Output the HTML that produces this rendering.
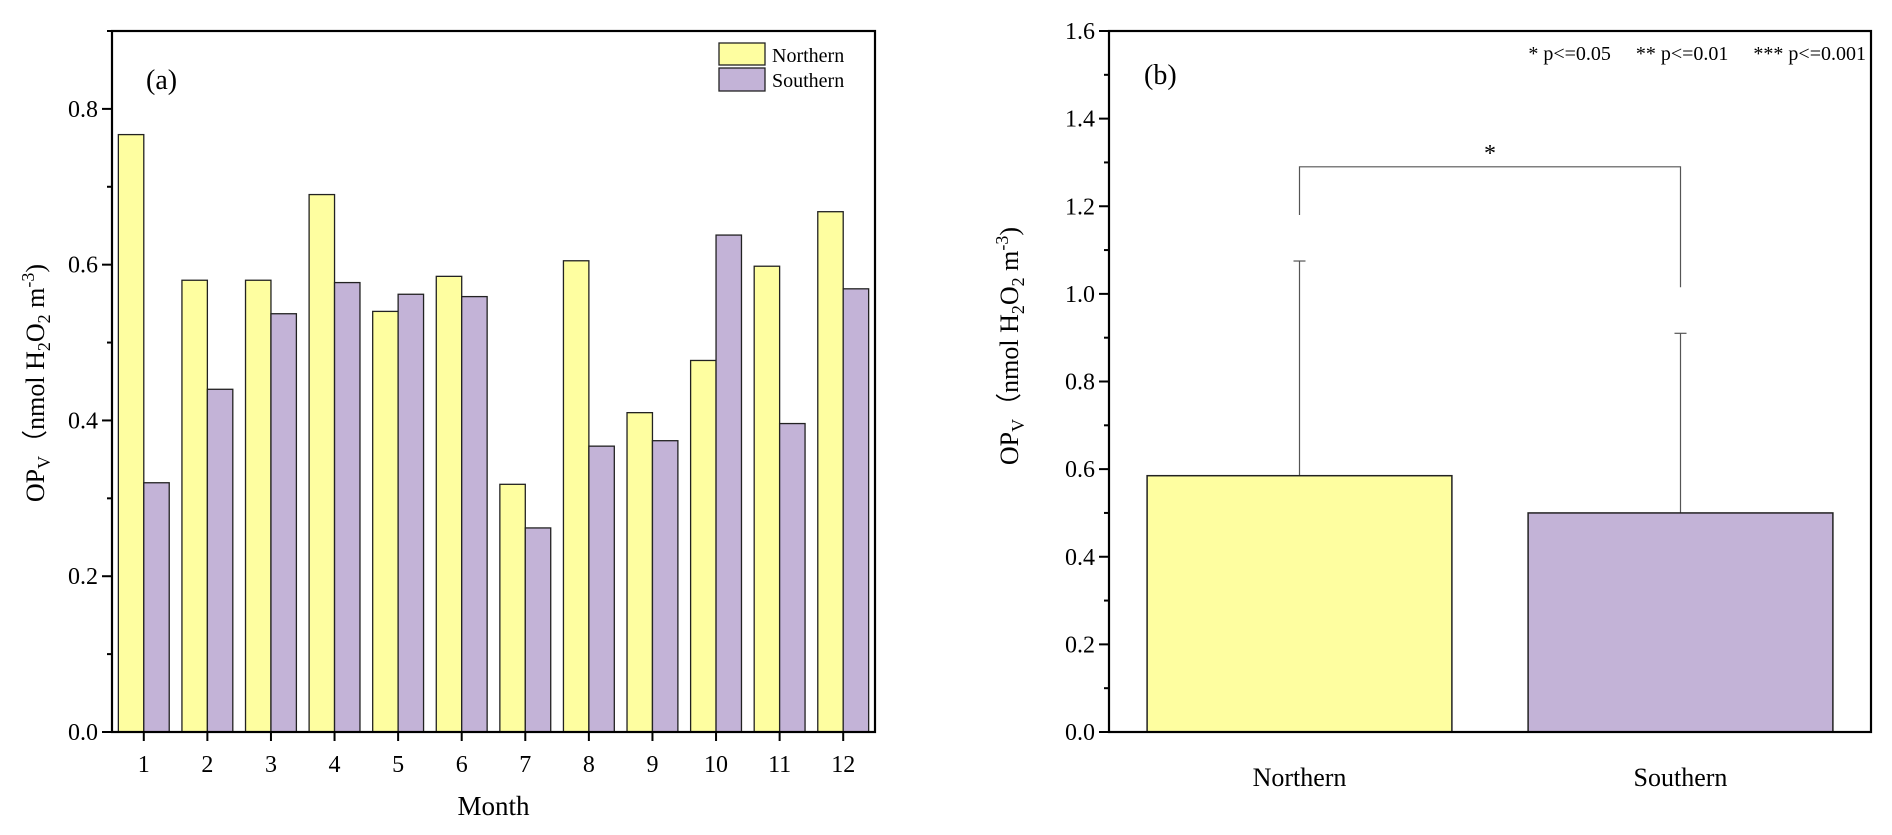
<!DOCTYPE html>
<html><head><meta charset="utf-8"><style>
body{margin:0;background:#fff;}
svg{display:block;}
svg text{font-family:"Liberation Serif","Times New Roman",serif;}
</style></head><body>
<svg width="1892" height="835" viewBox="0 0 1892 835" xmlns="http://www.w3.org/2000/svg" font-family="Liberation Serif, serif">
<g id="a"></g>
<g id="b"></g>
</svg>
<script>
const months=["1","2","3","4","5","6","7","8","9","10","11","12"];
const northern=[0.767,0.58,0.58,0.69,0.54,0.585,0.318,0.605,0.41,0.477,0.598,0.668];
const southern=[0.32,0.44,0.537,0.577,0.562,0.559,0.262,0.367,0.374,0.638,0.396,0.569];
const yTicksA=[0,0.2,0.4,0.6,0.8];
const groupsB=["Northern","Southern"];
const meansB=[0.585,0.5];
const errTopB=[1.075,0.91];
const yTicksB=[0,0.2,0.4,0.6,0.8,1.0,1.2,1.4,1.6];
const NS="http://www.w3.org/2000/svg";
const YEL="#fefea0",PUR="#c3b3d7";
function mk(p,t,a,txt){const e=document.createElementNS(NS,t);for(const k in a)e.setAttribute(k,a[k]);if(txt!==undefined)e.textContent=txt;p.appendChild(e);return e;}
// Panel A
const A=document.getElementById('a');
const aL=112,aR=875,aT=31,aB=732,aMax=0.9;
const ya=v=>aB-v/aMax*(aB-aT);
const xa=i=>aL+(i+0.5)*(aR-aL)/12;
const bw=(aR-aL)/12*0.4;
months.forEach((m,i)=>{
 let r=mk(A,'rect',{x:xa(i)-bw,y:ya(northern[i]),width:bw,height:aB-ya(northern[i]),fill:YEL,stroke:'#222','stroke-width':1.3});
 
 
 let s=mk(A,'rect',{x:xa(i),y:ya(southern[i]),width:bw,height:aB-ya(southern[i]),fill:PUR,stroke:'#222','stroke-width':1.3});
 
 
 mk(A,'line',{x1:xa(i),x2:xa(i),y1:aB,y2:aB+9,stroke:'#000','stroke-width':2});
 let t=mk(A,'text',{x:xa(i),y:aB+40,'text-anchor':'middle','font-size':24},m);
 
 
});
yTicksA.forEach(v=>{
 mk(A,'line',{x1:aL-10,x2:aL,y1:ya(v),y2:ya(v),stroke:'#000','stroke-width':2});
 let t=mk(A,'text',{x:aL-14,y:ya(v)+8,'text-anchor':'end','font-size':24},v.toFixed(1));
 
 
});
for(let v=0.1;v<aMax;v+=0.2){mk(A,'line',{x1:aL-5,x2:aL,y1:ya(v),y2:ya(v),stroke:'#000','stroke-width':2});}
mk(A,'rect',{x:aL,y:aT,width:aR-aL,height:aB-aT,fill:'none',stroke:'#000','stroke-width':2.2});
let la=mk(A,'text',{x:146,y:89,'font-size':28},'(a)');
let lg=mk(A,'g',{});
mk(lg,'rect',{x:719,y:43,width:46,height:22,fill:YEL,stroke:'#222','stroke-width':1.3});
mk(lg,'text',{x:772,y:62,'font-size':20},'Northern');
mk(lg,'rect',{x:719,y:68,width:46,height:23,fill:PUR,stroke:'#222','stroke-width':1.3});
mk(lg,'text',{x:772,y:87,'font-size':20},'Southern');
let xt=mk(A,'text',{x:(aL+aR)/2,y:815,'text-anchor':'middle','font-size':27},'Month');
function ytitle(p,x,y){const t=mk(p,'text',{transform:`translate(${x},${y}) rotate(-90)`,'text-anchor':'middle','font-size':26});
 t.innerHTML='OP<tspan font-size="18" dy="6">V</tspan><tspan dy="-6" font-family="Noto Sans CJK SC,sans-serif">（</tspan>nmol H<tspan font-size="18" dy="6">2</tspan><tspan dy="-6">O</tspan><tspan font-size="18" dy="6">2</tspan><tspan dy="-6"> m</tspan><tspan font-size="18" dy="-10">-3</tspan><tspan dy="10">)</tspan>';
 }
ytitle(A,44,383);
// Panel B
const B=document.getElementById('b');
const bL=1109,bR=1871,bT=31,bB=732,bMax=1.6;
const yb=v=>bB-v/bMax*(bB-bT);
const xb=i=>bL+(i+0.5)*(bR-bL)/2;
const bbw=(bR-bL)/2*0.8;
groupsB.forEach((g,i)=>{
 mk(B,'line',{x1:xb(i),x2:xb(i),y1:yb(meansB[i]),y2:yb(errTopB[i]),stroke:'#555','stroke-width':1.2});
 mk(B,'line',{x1:xb(i)-6,x2:xb(i)+6,y1:yb(errTopB[i]),y2:yb(errTopB[i]),stroke:'#555','stroke-width':1.2});
 let r=mk(B,'rect',{x:xb(i)-bbw/2,y:yb(meansB[i]),width:bbw,height:bB-yb(meansB[i]),fill:i?PUR:YEL,stroke:'#222','stroke-width':1.5});
 
 
 let t=mk(B,'text',{x:xb(i),y:786,'text-anchor':'middle','font-size':26},g);
 
 
});
yTicksB.forEach(v=>{
 mk(B,'line',{x1:bL-10,x2:bL,y1:yb(v),y2:yb(v),stroke:'#000','stroke-width':2});
 let t=mk(B,'text',{x:bL-14,y:yb(v)+8,'text-anchor':'end','font-size':24},v.toFixed(1));
 
 
});
for(let v=0.1;v<bMax;v+=0.2){mk(B,'line',{x1:bL-5,x2:bL,y1:yb(v),y2:yb(v),stroke:'#000','stroke-width':2});}
mk(B,'rect',{x:bL,y:bT,width:bR-bL,height:bB-bT,fill:'none',stroke:'#000','stroke-width':2.2});
let br=mk(B,'path',{d:`M${xb(0)} ${yb(1.18)} V${yb(1.29)} H${xb(1)} V${yb(1.015)}`,fill:'none',stroke:'#555','stroke-width':1.2});

mk(B,'text',{x:(xb(0)+xb(1))/2,y:yb(1.29)-6,'text-anchor':'middle','font-size':24},'*');
let lb=mk(B,'text',{x:1144,y:84,'font-size':28},'(b)');
let pl=mk(B,'text',{x:1866,y:60,'text-anchor':'end','font-size':20,style:'white-space:pre'},'* p<=0.05     ** p<=0.01     *** p<=0.001');

ytitle(B,1018,346);
</script>
</body></html>
